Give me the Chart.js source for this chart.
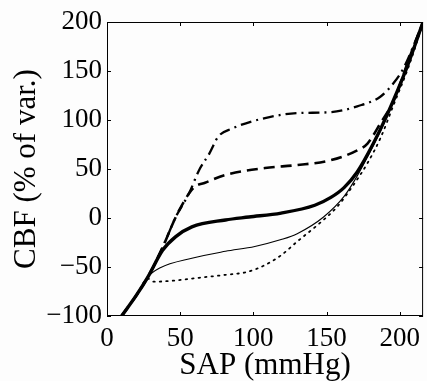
<!DOCTYPE html>
<html>
<head>
    <title>CBF vs SAP</title>
    <script src="https://cdn.jsdelivr.net/npm/chart.js"></script>
    <style>
        body {
            margin: 0;
            background-color: #fdfdfd;
        }
        .chart-container {
            width: 427px;
            height: 381px;
        }
    </style>
</head>
<body>
    <div class="chart-container">
        <canvas id="cbfChart"></canvas>
    </div>

    <script>
        // curves (SAP in mmHg, CBF in % of var.)
        const sapThick = [10, 20, 28, 38, 47, 58, 81, 97, 119, 142, 153, 162, 171, 182, 191, 205, 216];
        const cbfThick = [-100, -79, -60, -33, -19, -9, -2, 1, 5, 13, 21, 31, 47, 76, 104, 154, 200];

        const sapThin = [10, 20, 28, 36, 58, 81, 101, 119, 130, 148, 162, 171, 182, 191, 205, 216];
        const cbfThin = [-100, -79, -60, -51, -41, -34, -29, -22, -16, 1, 22, 43, 74, 102, 153, 200];

        const sapDotted = [10, 20, 28, 32, 45, 63, 81, 96, 108, 119, 130, 144, 157, 169, 178, 187, 196, 206, 216];
        const cbfDotted = [-100, -79, -62, -65, -64, -61, -58, -55, -48, -38, -24, -7, 11, 35, 56, 82, 116, 154, 199];

        const sapDashed = [10, 20, 28, 38, 47, 56, 60, 67, 81, 108, 130, 153, 171, 178, 187, 196, 207, 216];
        const cbfDashed = [-100, -79, -60, -30, 1, 25, 32, 36, 44, 51, 54, 59, 69, 76, 97, 120, 165, 200];

        const sapDashDot = [10, 20, 28, 38, 47, 56, 63, 70, 76, 85, 108, 130, 153, 171, 187, 196, 203, 216];
        const cbfDashDot = [-100, -79, -60, -30, 1, 25, 49, 66, 83, 91, 102, 107, 108, 114, 124, 138, 154, 200];

        const xTicks = [0, 50, 100, 150, 200];
        const yTicks = [-100, -50, 0, 50, 100, 150, 200];

        function pts(xs, ys) {
            return xs.map((x, i) => ({ x: x, y: ys[i] }));
        }

        // MATLAB-style box with inward ticks
        const boxPlugin = {
            id: 'box',
            afterDraw(chart) {
                const ctx = chart.ctx;
                const a = chart.chartArea;
                const xs = chart.scales.x;
                const ys = chart.scales.y;
                ctx.save();
                ctx.strokeStyle = '#000';
                ctx.lineWidth = 1;
                ctx.strokeRect(a.left + 0.5, a.top + 0.5, a.right - a.left - 1, a.bottom - a.top - 1);
                ctx.beginPath();
                xTicks.forEach(v => {
                    const px = Math.round(xs.getPixelForValue(v)) + 0.5;
                    ctx.moveTo(px, a.bottom); ctx.lineTo(px, a.bottom - 4);
                    ctx.moveTo(px, a.top); ctx.lineTo(px, a.top + 4);
                });
                yTicks.forEach(v => {
                    const py = Math.round(ys.getPixelForValue(v)) + 0.5;
                    ctx.moveTo(a.left, py); ctx.lineTo(a.left + 4, py);
                    ctx.moveTo(a.right, py); ctx.lineTo(a.right - 4, py);
                });
                ctx.stroke();
                ctx.restore();
            }
        };

        const common = { pointRadius: 0, borderColor: '#000', fill: false, cubicInterpolationMode: 'monotone' };

        new Chart(document.getElementById('cbfChart'), {
            type: 'line',
            data: {
                datasets: [
                    Object.assign({ data: pts(sapDotted, cbfDotted), borderWidth: 1.8, borderDash: [1.5, 5], borderCapStyle: 'round' }, common),
                    Object.assign({ data: pts(sapThin, cbfThin), borderWidth: 1.1 }, common),
                    Object.assign({ data: pts(sapDashed, cbfDashed), borderWidth: 2.6, borderDash: [11, 6] }, common),
                    Object.assign({ data: pts(sapDashDot, cbfDashDot), borderWidth: 2.3, borderDash: [11, 5, 2, 5] }, common),
                    Object.assign({ data: pts(sapThick, cbfThick), borderWidth: 3.4 }, common)
                ]
            },
            options: {
                responsive: true,
                maintainAspectRatio: false,
                animation: false,
                layout: { padding: { top: 22, right: 1, left: 0, bottom: 0 } },
                plugins: {
                    legend: { display: false },
                    tooltip: { enabled: false }
                },
                scales: {
                    x: {
                        type: 'linear',
                        min: 0,
                        max: 216,
                        afterBuildTicks: s => { s.ticks = xTicks.map(v => ({ value: v })); },
                        grid: { display: false, drawTicks: false },
                        border: { display: false },
                        ticks: {
                            color: '#000',
                            font: { family: 'Liberation Serif', size: 27 },
                            padding: 7,
                            maxRotation: 0
                        },
                        title: {
                            display: true,
                            text: 'SAP (mmHg)',
                            color: '#000',
                            font: { family: 'Liberation Serif', size: 31 },
                            padding: { top: 0, bottom: -3 }
                        },
                        afterFit: s => { s.height = 65; }
                    },
                    y: {
                        min: -100,
                        max: 200,
                        afterBuildTicks: s => { s.ticks = yTicks.map(v => ({ value: v })); },
                        grid: { display: false, drawTicks: false },
                        border: { display: false },
                        ticks: {
                            color: '#000',
                            font: { family: 'Liberation Serif', size: 27 },
                            padding: 5,
                            callback: v => String(v).replace('-', '\u2212')
                        },
                        title: {
                            display: true,
                            text: 'CBF (% of var.)',
                            color: '#000',
                            font: { family: 'Liberation Serif', size: 31 },
                            padding: { top: 8, bottom: 0 }
                        },
                        afterFit: s => { s.width = 107; }
                    }
                }
            },
            plugins: [boxPlugin]
        });
    </script>
</body>
</html>
